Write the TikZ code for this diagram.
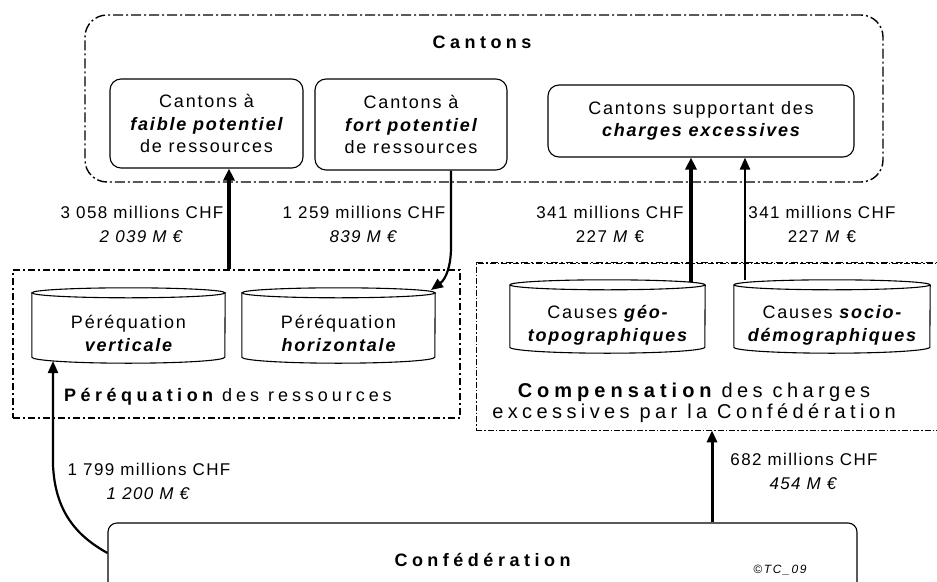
\documentclass[tikz,border=0pt]{standalone}
\usepackage{fontspec}
\setmainfont{Liberation Sans}
\usetikzlibrary{arrows.meta}
\newcommand\ftlab{\fontsize{17}{24}\selectfont\addfontfeature{LetterSpace=8}}
\newcommand\ftbox{\fontsize{18}{22.5}\selectfont\addfontfeature{LetterSpace=10}}
\newcommand\ftcyl{\fontsize{18}{23}\selectfont\addfontfeature{LetterSpace=10}}
\newcommand\fttit{\fontsize{18}{21}\selectfont\addfontfeature{LetterSpace=22}}
\newcommand\ftcomp{\fontsize{20}{21.5}\selectfont\addfontfeature{LetterSpace=22}}
\newcommand\tb[1]{{\bfseries\addfontfeature{LetterSpace=25}#1}}
\newcommand\bi[1]{{\bfseries\itshape #1}}
\newcommand\mycyl[5]{%
  \node[draw=none, inner sep=0pt, minimum width={2*#3 pt}, minimum height={(#5-#4)*1pt}] (#1) at (#2,{(#4+#5)/2}) {};
  \draw[cylline] (#1.north west) -- (#1.south west) arc[start angle=180,end angle=360,x radius=#3pt,y radius=6pt] -- (#1.north east);
  \draw[cylline] (#1.north) ellipse[x radius=#3pt,y radius=5pt];
}
\begin{document}
\begin{tikzpicture}[x=1pt,y=-1pt,
  rbox/.style={draw, line width=1.1pt, rounded corners=11pt, inner sep=0pt, align=center, font=\ftbox},
  lab/.style={align=center, inner sep=0pt, font=\ftlab},
  cyltext/.style={align=center, inner sep=0pt, font=\ftcyl},
  cylline/.style={line width=1.1pt},
  bigarrow/.style={line width=3.5pt, -{Triangle[length=12pt,width=11pt]}},
  medarrow/.style={line width=2.2pt, -{Triangle[length=12pt,width=10pt]}},
]
\useasboundingbox (0,0) rectangle (937,581);
\fill[white] (0,0) rectangle (937,581);

% Cantons outer box
\node[draw, line width=1.4pt, rounded corners=22pt, dash pattern=on 10pt off 3pt on 2pt off 3pt,
      minimum width=798pt, minimum height=167pt, inner sep=0pt] (cantons) at (484,98.5) {};
\node[font=\fttit, inner sep=0pt] (cantonsT) at (482,42) {\tb{Cantons}};

\node[rbox, minimum width=193pt, minimum height=89pt] (faible) at (206.5,123.5)
  {Cantons à\\\bi{faible potentiel}\\de ressources};
\node[rbox, minimum width=192pt, minimum height=91pt] (fort) at (411,124.5)
  {Cantons à\\\bi{fort potentiel}\\de ressources};
\node[rbox, minimum width=306pt, minimum height=72pt] (charges) at (701,121)
  {Cantons supportant des\\\bi{charges excessives}};

% Péréquation box
\node[draw, line width=1.4pt, dash pattern=on 7pt off 3pt on 2pt off 3pt,
      minimum width=447pt, minimum height=148pt, inner sep=0pt] (pereq) at (236.5,344) {};
\node[font=\fttit, inner sep=0pt] (pereqT) at (228,397) {\tb{Péréquation} des ressources};

% Compensation box
\node[draw, line width=0.7pt, dash pattern=on 6pt off 2pt on 1.5pt off 2pt,
      minimum width=484pt, minimum height=167pt, inner sep=0pt] (comp) at (718,346.5) {};
\draw[line width=1.4pt, dash pattern=on 7pt off 3pt on 2pt off 3pt] (comp.north west) -- (comp.north east);
\node[font=\ftcomp, inner sep=0pt, align=center] (compT) at (694,403)
  {\tb{Compensation} des charges\\excessives par la Confédération};

% cylinders
\mycyl{vertC}{128.5}{96.5}{293}{357}
\mycyl{horizC}{338.5}{96.5}{293}{357}
\mycyl{geoC}{607.5}{97.5}{285}{347}
\mycyl{socioC}{832}{98}{285}{347}
\node[cyltext] (vertT) at (128.5,333) {Péréquation\\\bi{verticale}};
\node[cyltext] (horizT) at (338.5,333) {Péréquation\\\bi{horizontale}};
\node[cyltext] (geoT) at (607.5,325) {Causes \bi{géo-}\\\bi{topographiques}};
\node[cyltext] (socioT) at (832,325) {Causes \bi{socio-}\\\bi{démographiques}};

% Confédération
\node[draw, line width=1.1pt, rounded corners=9pt, minimum width=749pt, minimum height=74pt,
      inner sep=0pt, font=\fttit] (conf) at (482.5,560) {\tb{Confédération}};
\node[inner sep=0pt, font=\fontsize{12}{14}\selectfont\itshape\addfontfeature{LetterSpace=14}] (copy) at (780,570) {©TC\_09};

% labels
\node[lab] (l1) at (142,224) {3 058 millions CHF\\\textit{2 039 M €}};
\node[lab] (l2) at (364,224) {1 259 millions CHF\\\textit{839 M €}};
\node[lab] (l3) at (610,224) {341 millions CHF\\227 \textit{M} €};
\node[lab] (l4) at (822,224) {341 millions CHF\\227 \textit{M} €};
\node[lab] (l5) at (149,481) {1 799 millions CHF\\\textit{1 200 M €}};
\node[lab] (l6) at (804,471) {682 millions CHF\\\textit{454 M €}};

% coordinates
\coordinate (geoTop) at (691,282);
\coordinate (socioTop) at (745,280);
\coordinate (horizTip) at (431,290);
\coordinate (vertTip) at (53,361);

% arrows
\draw[bigarrow] (229,0 |- pereq.north) -- (229,0 |- faible.south);
\draw[medarrow] (451,0 |- fort.south) -- (451,247) .. controls (451,266) and (446,279) .. (horizTip);
\draw[bigarrow] (geoTop) -- (691,0 |- charges.south);
\draw[medarrow] (socioTop) -- (745,0 |- charges.south);
\draw[medarrow] ([yshift=7pt]conf.west) .. controls (75,535) and (55,510) .. (53,465) -- (vertTip);
\draw[line width=3pt, -{Triangle[length=12pt,width=10pt]}] (712,0 |- conf.north) -- (712,0 |- comp.south);
\end{tikzpicture}
\end{document}
